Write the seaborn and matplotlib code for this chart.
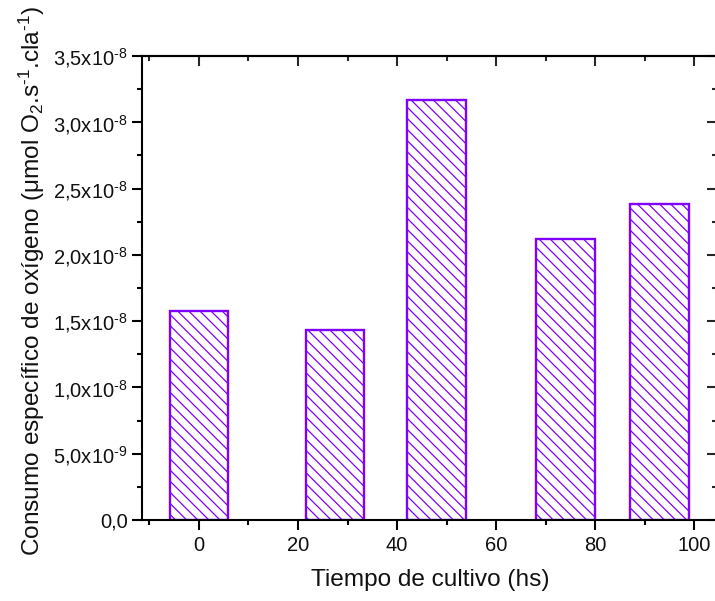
import matplotlib
matplotlib.use("Agg")
import matplotlib.pyplot as plt
import numpy as np
import pandas as pd
import seaborn as sns
from matplotlib.ticker import MultipleLocator, FixedLocator, FixedFormatter, NullFormatter

# Specific oxygen consumption per culture time
tiempo = [0, 27.5, 48, 74, 93]
consumo = [1.58e-8, 1.43e-8, 3.17e-8, 2.12e-8, 2.38e-8]

x_ticks = [0, 20, 40, 60, 80, 100]
y_ticks = [0, 0.5e-8, 1.0e-8, 1.5e-8, 2.0e-8, 2.5e-8, 3.0e-8, 3.5e-8]
y_tick_labels = ["0,0", r"5,0x10$^{\text{-9}}$", r"1,0x10$^{\text{-8}}$", r"1,5x10$^{\text{-8}}$",
                 r"2,0x10$^{\text{-8}}$", r"2,5x10$^{\text{-8}}$", r"3,0x10$^{\text{-8}}$",
                 r"3,5x10$^{\text{-8}}$"]

x_label = "Tiempo de cultivo (hs)"
y_label = r"Consumo específico de oxígeno (μmol O$_2$.s$^{\text{-1}}$.cla$^{\text{-1}}$)"

violet = "#8000ff"

sns.set_style("ticks")
plt.rcParams["font.family"] = ["Liberation Sans", "DejaVu Sans"]
plt.rcParams["mathtext.fontset"] = "custom"
plt.rcParams["mathtext.rm"] = "Liberation Sans"
plt.rcParams["mathtext.it"] = "Liberation Sans:italic"
plt.rcParams["mathtext.default"] = "regular"
plt.rcParams["hatch.linewidth"] = 0.9
plt.rcParams["hatch.color"] = violet

df = pd.DataFrame({"tiempo": tiempo, "consumo": consumo})

fig = plt.figure(figsize=(7.15, 6.01), dpi=100)
ax = fig.add_axes([142 / 715, 1 - 520 / 601, 575 / 715, 464 / 601])

bar_width_hs = 11.8
width = bar_width_hs / np.min(np.diff(sorted(tiempo)))
sns.barplot(data=df, x="tiempo", y="consumo", native_scale=True, width=width,
            color="white", saturation=1, edgecolor=violet, linewidth=1.7,
            hatch="\\\\\\", errorbar=None, ax=ax)

ax.set_xlim(-11.5, 104.6)
ax.set_ylim(0, 3.5e-8)

ax.xaxis.set_major_locator(FixedLocator(x_ticks))
ax.xaxis.set_major_formatter(FixedFormatter([str(v) for v in x_ticks]))
ax.xaxis.set_minor_locator(MultipleLocator(10))
ax.yaxis.set_major_locator(FixedLocator(y_ticks))
ax.yaxis.set_major_formatter(FixedFormatter(y_tick_labels))
ax.yaxis.set_minor_locator(MultipleLocator(0.25e-8))

for s in ax.spines.values():
    s.set_visible(True)
    s.set_linewidth(1.5)
    s.set_color("black")

ax.tick_params(which="both", direction="out", width=1.5, color="black",
               top=False, right=False, labelsize=14.5, labelcolor="#111111")
ax.tick_params(which="major", length=7.2)
ax.tick_params(axis="x", which="major", pad=4.5)
ax.tick_params(axis="y", which="major", pad=3)
ax.tick_params(which="minor", length=3.8)

# inward ticks on the top and right frame
top = ax.secondary_xaxis("top")
top.xaxis.set_major_locator(FixedLocator(x_ticks))
top.xaxis.set_minor_locator(MultipleLocator(10))
top.xaxis.set_major_formatter(NullFormatter())
top.tick_params(which="both", direction="in", width=1.5)
top.tick_params(which="major", length=7.2)
top.tick_params(which="minor", length=3.8)
top.spines["top"].set_linewidth(1.5)

right = ax.secondary_yaxis("right")
right.yaxis.set_major_locator(FixedLocator(y_ticks))
right.yaxis.set_minor_locator(MultipleLocator(0.25e-8))
right.yaxis.set_major_formatter(NullFormatter())
right.tick_params(which="both", direction="in", width=1.5)
right.tick_params(which="major", length=7.2)
right.tick_params(which="minor", length=3.8)

ax.set_xlabel(x_label, fontsize=17.6, color="#111111")
ax.set_ylabel(y_label, fontsize=17.6, color="#111111")
ax.xaxis.set_label_coords((430 - 142) / 575, -0.106)
ax.yaxis.set_label_coords(-0.165, (520 - 281) / 464)

fig.savefig("out.png", dpi=100)
